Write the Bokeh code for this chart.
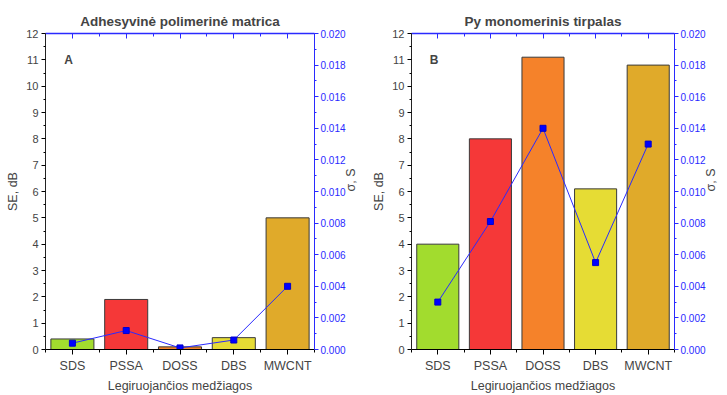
import math
from bokeh.plotting import figure
from bokeh.models import (Range1d, LinearAxis, FixedTicker, Label, ColumnDataSource)
from bokeh.layouts import row
from bokeh.embed import file_html
from bokeh.resources import INLINE

categories = ["SDS", "PSSA", "DOSS", "DBS", "MWCNT"]
colors = ["#a2dc2e", "#f53838", "#f5822a", "#e6dc34", "#e0aa2a"]

se_a = [0.4, 1.9, 0.1, 0.45, 5.0]
sigma_a = [0.0004, 0.0012, 0.0001, 0.0006, 0.0040]

se_b = [4.0, 8.0, 11.1, 6.1, 10.8]
sigma_b = [0.0030, 0.0081, 0.0140, 0.0055, 0.0130]

titles = ["Adhesyvinė polimerinė matrica", "Py monomerinis tirpalas"]
panel_labels = ["A", "B"]
xlabel = "Legiruojančios medžiagos"
ylabel = "SE, dB"
y2label = "σ, S"

se_ticks = list(range(0, 13))
sigma_ticks = [0.000, 0.002, 0.004, 0.006, 0.008, 0.010, 0.012, 0.014, 0.016, 0.018, 0.020]

FONT = "Liberation Sans"
BLUE = "#2a2aff"


def make_panel(se, sigma, title, plabel, width, bl, br):
    xs = [i + 1 for i in range(len(categories))]
    src = ColumnDataSource(dict(x=xs, se=se, sigma=sigma, color=colors, cat=categories))
    p = figure(width=width, height=395, output_backend="svg", toolbar_location=None,
               x_range=Range1d(0.5, len(categories) + 0.5), y_range=Range1d(0, 12),
               min_border_left=bl, min_border_right=br, min_border_top=33, min_border_bottom=0,
               title=title)
    p.title.text_font = FONT
    p.title.text_font_size = "13.5px"
    p.title.text_font_style = "bold"
    p.title.align = "center"
    p.title.offset = 0
    p.title.text_line_height = 1.0
    p.outline_line_color = None
    p.grid.grid_line_color = None
    p.background_fill_color = "white"
    p.border_fill_color = "white"

    p.extra_y_ranges = {"sigma": Range1d(0, 0.020)}

    p.vbar(x="x", top="se", width=0.8, source=src, fill_color="color",
           line_color="#3a3a3a", line_width=1)
    p.line(x="x", y="sigma", source=src, y_range_name="sigma", line_color=BLUE, line_width=1)
    p.scatter(x="x", y="sigma", source=src, y_range_name="sigma", marker="square",
              size=6, fill_color="#0000ff", line_color="#0000cc")

    # bottom axis
    xa = p.xaxis[0]
    xa.ticker = FixedTicker(ticks=xs, minor_ticks=[i + 0.5 for i in range(len(categories) + 1)])
    xa.major_label_overrides = {i + 1: c for i, c in enumerate(categories)}
    xa.axis_label = xlabel
    xa.axis_label_text_font = FONT
    xa.axis_label_text_font_style = "normal"
    xa.axis_label_text_font_size = "12.5px"
    xa.axis_label_text_line_height = 1.0
    xa.major_label_text_font = FONT
    xa.major_label_text_font_size = "12.5px"
    xa.major_label_text_line_height = 1.0
    xa.major_tick_out = 5
    xa.major_tick_in = 0
    xa.minor_tick_out = 3
    xa.minor_tick_in = 0
    xa.axis_line_color = "black"
    xa.major_tick_line_color = "black"
    xa.minor_tick_line_color = "black"
    xa.major_label_standoff = 4
    xa.axis_label_standoff = 3

    # left axis
    ya = p.yaxis[0]
    ya.ticker = FixedTicker(ticks=se_ticks, minor_ticks=[t + 0.5 for t in se_ticks[:-1]])
    ya.axis_label = ylabel
    ya.axis_label_text_font = FONT
    ya.axis_label_text_font_style = "normal"
    ya.axis_label_text_font_size = "12.5px"
    ya.axis_label_text_line_height = 1.0
    ya.major_label_text_font = FONT
    ya.major_label_text_font_size = "11px"
    ya.major_tick_out = 4
    ya.major_tick_in = 0
    ya.minor_tick_out = 2
    ya.minor_tick_in = 0
    ya.axis_line_color = "#222222"
    ya.major_label_standoff = 3
    ya.axis_label_standoff = 3

    # right sigma axis
    ra = LinearAxis(y_range_name="sigma", axis_label=y2label)
    ra.ticker = FixedTicker(ticks=sigma_ticks, minor_ticks=[t + 0.001 for t in sigma_ticks[:-1]])
    ra.major_label_overrides = {t: "%.3f" % t for t in sigma_ticks}
    ra.axis_label_text_font = FONT
    ra.axis_label_text_font_style = "normal"
    ra.axis_label_text_font_size = "12.5px"
    ra.axis_label_text_line_height = 1.0
    ra.axis_label_orientation = math.pi / 2
    ra.major_label_text_font = FONT
    ra.major_label_text_font_size = "10px"
    ra.major_label_text_color = BLUE
    ra.axis_line_color = BLUE
    ra.major_tick_line_color = BLUE
    ra.minor_tick_line_color = BLUE
    ra.major_tick_out = 4
    ra.major_tick_in = 0
    ra.minor_tick_out = 2
    ra.minor_tick_in = 0
    ra.major_label_standoff = 2
    ra.axis_label_standoff = 2
    p.add_layout(ra, "right")

    # top mirror axis
    ta = LinearAxis()
    ta.ticker = FixedTicker(ticks=xs, minor_ticks=[i + 0.5 for i in range(len(categories) + 1)])
    ta.major_label_text_font_size = "0px"
    ta.major_label_text_color = None
    ta.axis_line_color = BLUE
    ta.axis_line_width = 1.5
    ta.major_tick_line_color = BLUE
    ta.minor_tick_line_color = BLUE
    ta.major_tick_in = 5
    ta.major_tick_out = 0
    ta.minor_tick_in = 3
    ta.minor_tick_out = 0
    ta.major_label_standoff = 0
    p.add_layout(ta, "above")

    p.add_layout(Label(x=0.93, y=10.98, text=plabel, text_font=FONT, text_font_size="12px",
                       text_font_style="bold", text_align="center", text_baseline="middle"))
    return p


p1 = make_panel(se_a, sigma_a, titles[0], panel_labels[0], 367, 45, 53)
p2 = make_panel(se_b, sigma_b, titles[1], panel_labels[1], 360, 44, 53)
layout = row(p1, p2)

open("out.html", "w").write(file_html(layout, INLINE))
